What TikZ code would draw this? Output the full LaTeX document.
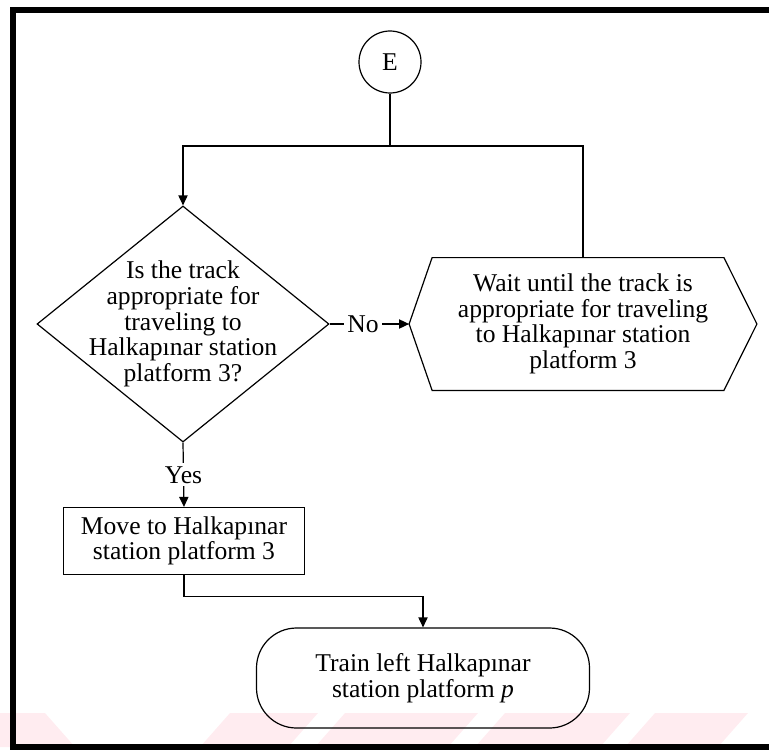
\documentclass[tikz,border=0pt]{standalone}
\usepackage{fontspec}
\setmainfont{Liberation Serif}
\usetikzlibrary{shapes.geometric,arrows.meta,positioning}
\definecolor{wmpink}{RGB}{255,236,240}

\begin{document}
\begin{tikzpicture}[x=0.5pt,y=-0.5pt,>={Triangle[length=5pt,width=4.6pt]},
  font=\fontsize{12.8pt}{12.8pt}\selectfont,
  flow/.style={line width=0.6pt},
  connector/.style={circle,draw,line width=0.6pt,minimum size=31pt,inner sep=0pt},
  decision/.style={diamond,draw,line width=0.6pt,minimum width=146pt,minimum height=118pt,inner sep=0pt},
  process/.style={rectangle,draw,line width=0.6pt,minimum width=120.5pt,minimum height=33.5pt,align=center},
  waitbox/.style={rectangle,minimum width=173.5pt,minimum height=66pt,inner sep=0pt,align=center},
  terminal/.style={rectangle,rounded corners=20pt,draw,line width=0.6pt,minimum width=166.5pt,minimum height=50pt,align=center},
  lbl/.style={fill=white,inner sep=1.5pt}]
\useasboundingbox (0,0) rectangle (769,749);

% watermark at the foot of the page
\fill[wmpink] (0,713) -- (45,713) -- (75,747) -- (0,747) -- cycle;
\foreach \a/\b in {230/318,345/478,505/630,655/748}
  \fill[wmpink] (\a,713) -- (\b,713) -- (\b-30,747) -- (\a-30,747) -- cycle;

% frame
\draw[line width=2.6pt,line join=miter] (780,10) -- (13,10) -- (13,747) -- (780,747);

\node[connector] (E) at (390,62) {E};
\node[decision] (dec) at (183,324) {};
\node[align=center] (dectext) at (dec.center) {Is the track\\appropriate for\\traveling to\\Halkapınar station\\platform 3?};
\node[waitbox] (wait) at (583,324) {Wait until the track is\\appropriate for traveling\\to Halkapınar station\\platform 3};
\draw[flow] (wait.west) -- ([xshift=11.5pt]wait.north west) -- ([xshift=-16.5pt]wait.north east)
  -- (wait.east) -- ([xshift=-16.5pt]wait.south east) -- ([xshift=11.5pt]wait.south west) -- cycle;
\node[process] (move) at (184,541) {Move to Halkapınar\\station platform 3};
\node[terminal] (stop) at (423,678) {Train left Halkapınar\\station platform \textit{p}};

% connectors
\coordinate (join) at (390,146);
\draw[flow] (E) -- (join);
\draw[flow,->] (wait.north) |- (join) -| (dec.north);
\draw[flow,->] (dec.east) -- node[lbl,pos=0.42]{No} (wait.west);
\draw[flow,->] (dec.south) -- node[lbl]{Yes} (move.north);
\draw[flow,->] (move.south) -- ++(0,21) -| (stop.north);
\end{tikzpicture}
\end{document}
